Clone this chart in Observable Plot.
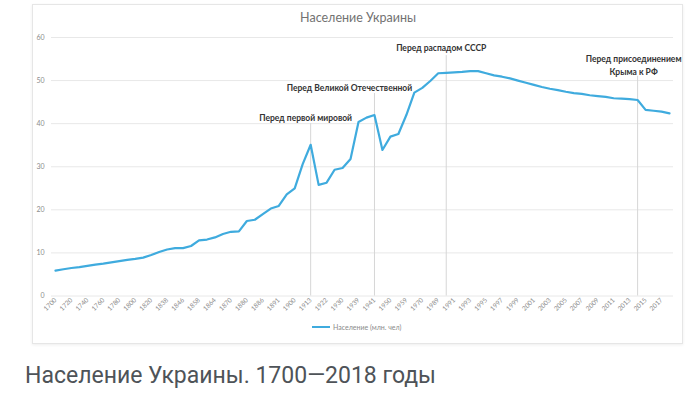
<!DOCTYPE html>
<html><head><meta charset="utf-8">
<script src="https://cdn.jsdelivr.net/npm/d3@7"></script>
<script src="https://cdn.jsdelivr.net/npm/@observablehq/plot@0.6"></script>
<style>
body{margin:0;background:#fff;}
#wrap{position:relative;width:693px;height:416px;overflow:hidden;font-family:Lato,"Open Sans",sans-serif;}
#frame{position:absolute;left:32px;top:4px;width:651px;height:340px;border:1px solid #e6e6e6;box-shadow:0 1px 3px rgba(0,0,0,0.07);box-sizing:border-box;}
#title{position:absolute;left:258px;width:200px;top:10px;text-align:center;font-size:12.5px;color:#727272;}
#chart{position:absolute;left:0;top:0;}
#legend{position:absolute;left:312px;top:323px;font-size:7px;color:#8a8a8a;white-space:nowrap;display:flex;align-items:center;}
#legend .sw{display:inline-block;width:18px;height:2px;margin-right:3px;}
#caption{position:absolute;left:25px;top:362px;font-family:Roboto,sans-serif;font-size:23px;color:#4e5358;white-space:nowrap;}
</style></head>
<body><div id="wrap">
<div id="frame"></div>
<div id="title"></div>
<div id="chart"></div>
<div id="legend"></div>
<div id="caption"></div>
</div>
<script>
const chartTitle = "Население Украины";
const seriesName = "Население (млн. чел)";
const captionText = "Население Украины. 1700—2018 годы";

const years = ["1700","1710","1720","1730","1740","1750","1760","1770","1780","1790","1800","1810","1820","1830",
  "1838","1842","1846","1851","1858","1861","1864","1867","1870","1875","1880","1883","1886","1888","1891","1897",
  "1900","1910","1913","1920","1922","1926","1930","1933","1939","1940","1941","1945","1950","1955","1959","1965",
  "1970","1979","1989","1990","1991","1992","1993","1994","1995","1996","1997","1998","1999","2000","2001","2002",
  "2003","2004","2005","2006","2007","2008","2009","2010","2011","2012","2013","2014","2015","2016","2017","2018"];

const population = [5.9,6.2,6.5,6.7,7.0,7.3,7.5,7.8,8.1,8.4,8.6,8.9,9.5,10.2,
  10.8,11.1,11.1,11.6,12.9,13.1,13.6,14.4,14.9,15.0,17.4,17.7,19.0,20.3,20.9,23.6,
  25.0,30.6,35.1,25.8,26.3,29.3,29.7,31.8,40.4,41.4,42.0,33.9,37.0,37.6,42.0,47.2,
  48.3,49.9,51.7,51.8,51.9,52.0,52.2,52.2,51.7,51.2,50.9,50.5,50.0,49.5,49.0,48.5,
  48.1,47.8,47.4,47.1,46.9,46.6,46.4,46.2,45.9,45.8,45.7,45.5,43.2,43.0,42.8,42.4];

const xTickLabels = years.filter((d, i) => i % 2 === 0);
const yTicks = [0, 10, 20, 30, 40, 50, 60];

const eventYears = ["1913", "1941", "1990", "2014"];
const eventLabels = ["Перед первой мировой", "Перед Великой Отечественной", "Перед распадом СССР", "Перед присоединением\nКрыма к РФ"];
const eventTops = [40.0, 47.0, 55.8, 51.0];
const eventLabelLevels = [41.6, 48.4, 57.7, 53.7];

const series = years.map((y, i) => ({year: y, value: population[i]}));
const events = eventYears.map((y, i) => ({year: y, label: eventLabels[i], top: eventTops[i], level: eventLabelLevels[i]}));
const eventDx = [-5, -25, -5, -4];

document.getElementById("title").textContent = chartTitle;
document.getElementById("caption").textContent = captionText;
const lineColor = "#3fabde";
document.getElementById("legend").innerHTML = `<span class="sw" style="background:${lineColor}"></span><span>${seriesName}</span>`;

const chart = Plot.plot({
  width: 693,
  height: 318,
  marginLeft: 51,
  marginRight: 20,
  marginTop: 37,
  marginBottom: 22.5,
  style: {fontFamily: "Lato, 'Open Sans', sans-serif", background: "transparent", color: "#8c8c8c", overflow: "visible"},
  x: {type: "point", domain: years, padding: 0.5, label: null},
  y: {domain: [0, 60], label: null},
  marks: [
    Plot.ruleY(yTicks, {stroke: "#e8e8e8", strokeWidth: 1}),
    Plot.ruleX(events, {x: "year", y1: 0, y2: "top", stroke: "#d6d6d6", strokeWidth: 1}),
    Plot.axisY({ticks: yTicks, tickSize: 0, tickPadding: 7, fontSize: 7, label: null}),
    Plot.axisX({ticks: xTickLabels, tickSize: 0, tickPadding: 3, tickRotate: -45, fontSize: 6.5, label: null}),
    Plot.line(series, {x: "year", y: "value", stroke: lineColor, strokeWidth: 2.2, strokeLinejoin: "round", curve: "linear"}),
    ...events.map((e, i) => Plot.text([e], {x: "year", y: "level", text: "label", dx: eventDx[i], fontWeight: "bold", fontSize: 8.5, fill: "#333", lineHeight: 1.45, textAnchor: "middle"}))
  ]
});
document.getElementById("chart").appendChild(chart);
</script>
</body></html>
